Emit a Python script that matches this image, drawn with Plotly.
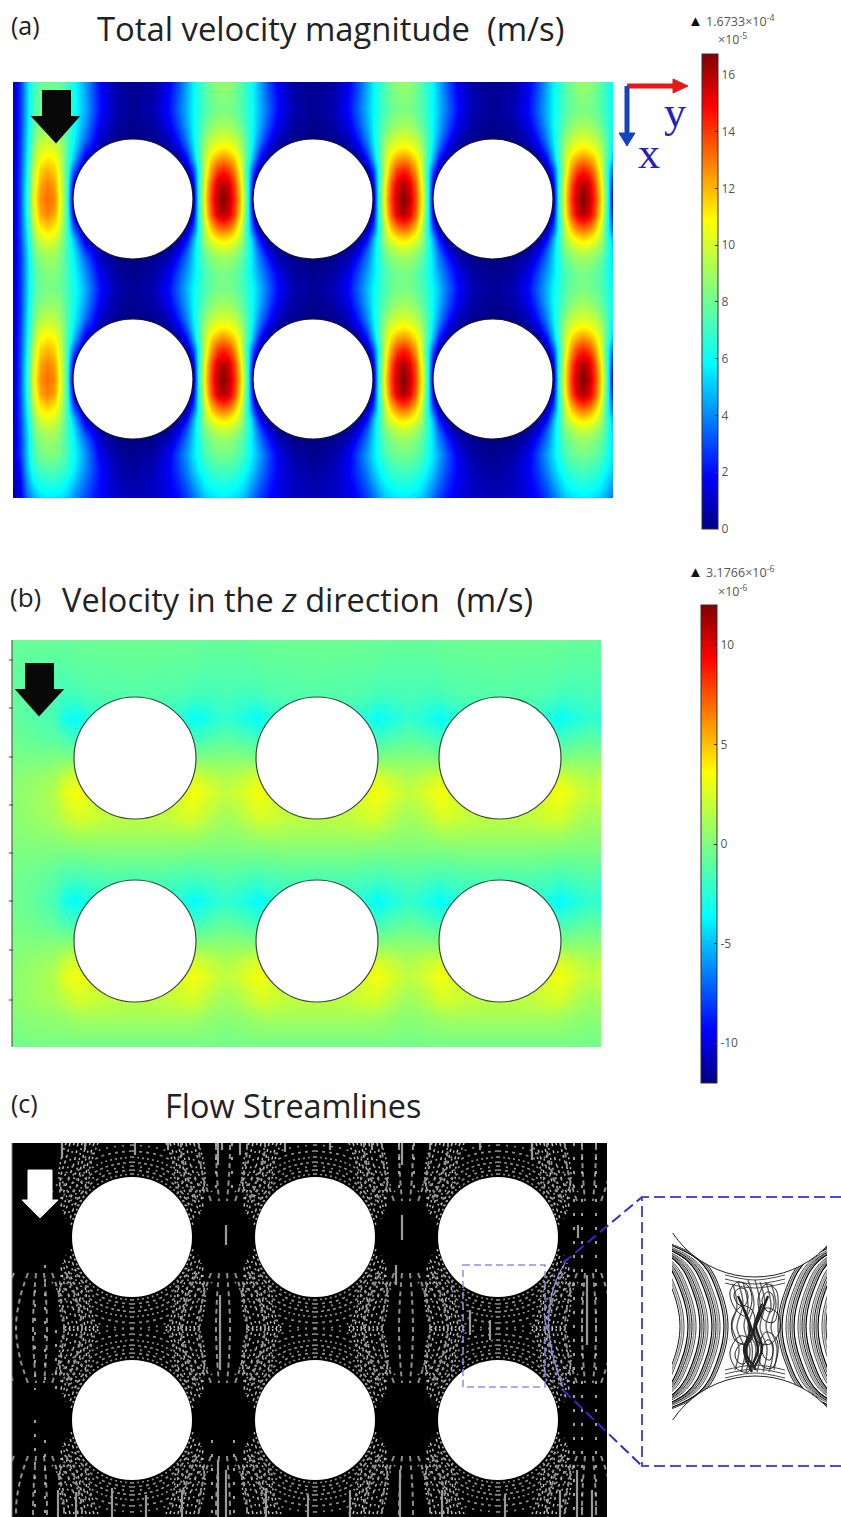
import plotly.graph_objects as go

W, H = 841, 1517
JET = [[0, "#00007F"], [0.11, "#0000FF"], [0.35, "#00FFFF"], [0.5, "#7FFF7F"], [0.65, "#FFFF00"], [0.89, "#FF0000"], [1, "#7F0000"]]

# ---------- panel (a): total velocity magnitude, x10^-5 m/s ----------
SPEED_MAX = 16.733
speed_hot_columns = [223, 403, 583]
speed_offsets = [0, 6, 12, 18, 24, 30, 36, 45, 55, 70, 90]
speed_left_x = [13, 20, 27, 33, 40, 47, 54, 60, 66, 73, 85, 100, 115, 133]
speed_row_y = [82, 109, 124, 139, 149, 159, 169, 184, 199, 214, 229, 239, 249, 259, 274, 289,
               304, 319, 329, 339, 349, 364, 379, 394, 409, 419, 429, 439, 454, 469, 498]
sp_top = [8.8, 8.7, 8.2, 7.5, 6.6, 5.7, 4.6, 3.0, 1.6, 0.5, 0.2]
sp_0 = [16.7, 15.9, 14.0, 11.3, 7.0, 0.6, 0, 0, 0, 0, 0]
sp_15 = [16.1, 15.4, 13.6, 10.9, 6.8, 1.5, 0, 0, 0, 0, 0]
sp_30 = [14.3, 13.8, 12.4, 10.2, 6.5, 3.0, 0.8, 0, 0, 0, 0]
sp_40 = [12.8, 12.4, 11.5, 9.8, 7.2, 4.5, 2.0, 0.4, 0, 0, 0]
sp_50 = [11.3, 11.0, 10.4, 9.3, 7.3, 5.2, 3.2, 1.2, 0.3, 0, 0]
sp_60 = [10.2, 10.0, 9.6, 8.7, 7.2, 5.6, 4.0, 2.2, 0.8, 0.2, 0]
sp_75 = [9.0, 8.9, 8.5, 7.8, 6.9, 5.8, 4.6, 3.0, 1.5, 0.5, 0.2]
sp_90 = [8.3, 8.2, 7.9, 7.4, 6.7, 5.8, 4.8, 3.4, 1.9, 0.7, 0.3]
sp_d30 = [13.2, 12.8, 11.7, 9.8, 6.4, 3.0, 0.8, 0, 0, 0, 0]
sp_d40 = [11.4, 11.1, 10.4, 9.2, 6.8, 4.5, 2.0, 0.4, 0, 0, 0]
sp_d50 = [9.9, 9.7, 9.2, 8.4, 6.8, 5.0, 3.2, 1.2, 0.3, 0, 0]
sp_d60 = [8.9, 8.8, 8.4, 7.8, 6.6, 5.2, 3.8, 2.2, 0.8, 0.2, 0]
sp_d75 = [8.2, 8.1, 7.8, 7.3, 6.4, 5.4, 4.4, 3.0, 1.5, 0.5, 0.2]
sp_low = [7.3, 7.2, 7.0, 6.5, 5.8, 5.0, 4.0, 2.8, 1.7, 0.8, 0.4]
sp_bot = [5.6, 5.5, 5.3, 5.0, 4.3, 3.5, 2.8, 2.0, 1.4, 1.0, 0.8]
lf_top = [1, 2.6, 5.2, 7.0, 7.8, 8.0, 8.0, 7.8, 7.2, 6.2, 4.4, 1.8, 0.6, 0.2]
lf_0 = [1, 3, 6.5, 10.5, 12.6, 13.2, 12.8, 10.6, 7.5, 0.5, 0, 0, 0, 0]
lf_15 = [1, 3, 6.3, 10, 12.2, 12.9, 12.3, 10.4, 7.5, 1.5, 0, 0, 0, 0]
lf_30 = [1, 2.9, 6, 9.5, 11.5, 12, 11.6, 10, 7.5, 3.5, 0.3, 0, 0, 0]
lf_40 = [1, 2.8, 5.8, 9, 10.8, 11.2, 11, 9.7, 7.6, 5, 1.2, 0, 0, 0]
lf_50 = [1, 2.8, 5.6, 8.5, 10.2, 10.4, 10.2, 9.3, 7.6, 5.6, 2.5, 0.5, 0, 0]
lf_60 = [1, 2.7, 5.5, 8, 9.4, 9.7, 9.6, 8.9, 7.6, 6, 3.5, 1, 0.2, 0]
lf_75 = [1, 2.6, 5.3, 7.5, 8.5, 8.8, 8.8, 8.4, 7.5, 6.2, 4.2, 1.6, 0.5, 0.2]
lf_90 = [1, 2.6, 5.2, 7.2, 8, 8.2, 8.2, 8, 7.3, 6.3, 4.6, 2, 0.7, 0.3]
lf_d30 = [1, 2.9, 5.9, 9.2, 11, 11.4, 11, 9.7, 7.4, 3.5, 0.3, 0, 0, 0]
lf_d40 = [1, 2.8, 5.6, 8.5, 10, 10.4, 10.2, 9, 7.3, 5, 1.2, 0, 0, 0]
lf_d50 = [1, 2.7, 5.3, 7.9, 9.2, 9.5, 9.3, 8.6, 7.3, 5.6, 2.5, 0.5, 0, 0]
lf_d60 = [1, 2.6, 5.2, 7.5, 8.6, 8.9, 8.8, 8.3, 7.2, 5.9, 3.5, 1, 0.2, 0]
lf_d75 = [1, 2.6, 5.1, 7.2, 8.1, 8.4, 8.4, 8, 7.2, 6.1, 4.2, 1.6, 0.5, 0.2]
lf_low = [0.7, 2.1, 4.8, 6.6, 7.2, 7.4, 7.4, 7.2, 6.7, 5.8, 4, 2, 0.8, 0.4]
lf_bot = [0.6, 1.5, 3.5, 4.5, 5.3, 5.5, 5.5, 5.4, 5, 4.2, 3, 1.8, 1.1, 0.8]
speed_profiles = [sp_top, sp_90, sp_75, sp_60, sp_50, sp_40, sp_30, sp_15, sp_0, sp_15, sp_d30, sp_d40, sp_d50, sp_d60, sp_d75, sp_90,
                  sp_75, sp_60, sp_50, sp_40, sp_30, sp_15, sp_0, sp_15, sp_d30, sp_d40, sp_d50, sp_d60, sp_d75, sp_low, sp_bot]
speed_left = [lf_top, lf_90, lf_75, lf_60, lf_50, lf_40, lf_30, lf_15, lf_0, lf_15, lf_d30, lf_d40, lf_d50, lf_d60, lf_d75, lf_90,
              lf_75, lf_60, lf_50, lf_40, lf_30, lf_15, lf_0, lf_15, lf_d30, lf_d40, lf_d50, lf_d60, lf_d75, lf_low, lf_bot]
speed_ticks = [0, 2, 4, 6, 8, 10, 12, 14, 16]
speed_tick_labels = ["0", "2", "4", "6", "8", "10", "12", "14", "16"]
circles_a_x = [133, 313, 493]
circles_a_y = [199, 379]

# ---------- panel (b): velocity in z, x10^-6 m/s ----------
vz_gap_columns = [44, 226, 409, 591]
vz_offsets = [0, 10, 20, 32, 40, 60, 91]
vz_left_x = [12, 24, 34, 44, 54]
vz_row_y = [640, 667, 693, 718, 738, 758, 778, 793, 818, 833, 849, 876, 901, 921, 941, 961, 976, 1001, 1016, 1032, 1047]
vz_profiles = [
    [-0.7, -0.7, -0.7, -0.6, -0.6, -0.5, -0.5],
    [-1.1, -1.1, -1.1, -1.0, -0.9, -0.9, -0.8],
    [-1.5, -1.6, -1.7, -1.6, -1.4, -1.2, -1.2],
    [-2.2, -2.5, -3.0, -3.5, -2.8, -2.0, -1.8],
    [-1.0, -1.2, -1.5, -1.8, -1.9, -1.8, -1.8],
    [0.2, 0.2, 0.1, 0, 0, 0, 0],
    [1.4, 1.7, 2.1, 2.6, 2.5, 2.0, 2.0],
    [1.9, 2.2, 2.8, 3.4, 3.0, 2.2, 2.0],
    [1.0, 1.2, 1.7, 2.4, 2.4, 1.8, 1.6],
    [0.5, 0.6, 0.8, 1.1, 1.2, 1.1, 1.1],
    [0.0, 0.0, 0.0, 0.0, 0.1, 0.2, 0.2],
    [-1.2, -1.3, -1.5, -1.6, -1.5, -1.3, -1.3],
    [-2.2, -2.5, -3.0, -3.6, -3.0, -2.1, -1.9],
    [-1.0, -1.2, -1.6, -1.9, -2.0, -1.8, -1.8],
    [0.2, 0.2, 0.1, 0, 0, 0, 0],
    [1.3, 1.6, 2.0, 2.5, 2.5, 2.0, 2.0],
    [1.8, 2.1, 2.8, 3.3, 3.0, 2.2, 2.0],
    [0.9, 1.1, 1.6, 2.3, 2.3, 1.8, 1.6],
    [0.4, 0.5, 0.7, 1.0, 1.1, 1.1, 1.1],
    [0.0, 0.1, 0.2, 0.3, 0.3, 0.3, 0.3],
    [-0.4, -0.4, -0.3, -0.3, -0.3, -0.3, -0.3],
]
vz_left = [
    [-0.6, -0.6, -0.6, -0.6, -0.6],
    [-0.8, -0.9, -1.0, -1.1, -1.1],
    [-0.8, -1.0, -1.2, -1.4, -1.5],
    [-0.8, -1.0, -1.2, -1.4, -1.6],
    [-0.5, -0.7, -0.8, -1.0, -1.0],
    [-0.2, -0.2, -0.2, -0.2, 0],
    [0.2, 0.4, 0.6, 0.8, 1.0],
    [0.4, 0.6, 0.8, 1.1, 1.5],
    [0.4, 0.5, 0.7, 0.9, 1.2],
    [0.2, 0.3, 0.4, 0.5, 0.6],
    [0, 0, 0, 0, 0],
    [-0.4, -0.5, -0.6, -0.8, -1.0],
    [-0.4, -0.6, -0.8, -1.2, -1.6],
    [-0.3, -0.4, -0.5, -0.8, -1.0],
    [0, 0, 0, 0, 0.1],
    [0.2, 0.4, 0.6, 0.8, 1.0],
    [0.4, 0.6, 0.8, 1.1, 1.5],
    [0.4, 0.6, 0.8, 1.0, 1.2],
    [0.2, 0.3, 0.4, 0.5, 0.6],
    [-0.1, 0, 0.1, 0.1, 0.2],
    [-0.4, -0.4, -0.3, -0.3, -0.3],
]
vz_ticks = [-10, -5, 0, 5, 10]
vz_tick_labels = ["-10", "-5", "0", "5", "10"]
circles_b_x = [135, 317, 500]
circles_b_y = [758, 941]
edge_tick_y = [660, 708, 757, 805, 853, 901, 950, 1000]

# ---------- panel (c): streamlines ----------
circles_c_x = [132, 315, 498]
circles_c_y = [1237, 1420]
stream_dy_up = [
    [-94, -70, -50, -30, -12], [-94, -70, -50, -32, -15], [-94, -70, -50, -34, -18], [-94, -70, -52, -38, -22], [-94, -72, -56, -42, -26],
    [-94, -74, -60, -46, -30], [-94, -76, -62, -50, -36], [-94, -78, -66, -54, -42], [-94, -82, -72, -60, -48],
]
stream_dx_up = [
    [34, 42, 44, 54, 61], [38, 45, 47, 57, 63], [42, 48, 51, 59, 66], [46, 51, 55, 62, 68], [50, 54, 59, 65, 69],
    [54, 58, 63, 68, 71], [58, 62, 67, 70, 71], [62, 66, 70, 72, 72], [66, 70, 72, 73, 71],
]
stream_sides = [-1, 1]
hug_dx = [[0, 22, 42, 55], [0, 24, 45, 58], [0, 25, 47, 62], [0, 26, 50, 65], [0, 28, 53, 70], [0, 30, 57, 75], [0, 32, 61, 80]]
hug_dy = [[63, 59, 47, 31], [67, 63, 50, 33], [71, 66, 53, 35], [75, 70, 56, 37], [80, 75, 60, 39], [86, 81, 64, 42], [92, 87, 69, 45]]
lens_x = [40, 40, 223, 223, 223, 406, 406, 406, 589, 589, 589]
lens_y = [1328, 1511, 1328, 1511, 1146, 1328, 1511, 1146, 1328, 1511, 1146]
lens_dy = [-55, -30, 0, 30, 55]
lens_dx = [[4, 6, 7, 6, 4], [12, 20, 24, 20, 12], [26, 36, 42, 36, 26]]
stream_bar_x = [62, 85, 135, 168, 218, 222, 240, 285, 330, 372, 402, 430, 480, 532,
                58, 76, 112, 146, 182, 218, 226, 266, 308, 350, 400, 442, 505, 560, 577, 592, 220, 226, 396, 402, 578, 587, 470, 490]
stream_bar_top = [1143, 1143, 1143, 1143, 1143, 1143, 1143, 1143, 1143, 1143, 1143, 1143, 1143, 1143,
                  1490, 1492, 1488, 1495, 1490, 1460, 1470, 1488, 1495, 1490, 1470, 1490, 1495, 1490, 1470, 1490, 1295, 1225, 1265, 1215, 1225, 1275, 1310, 1320]
stream_bar_bottom = [1158, 1150, 1155, 1150, 1165, 1150, 1155, 1152, 1150, 1150, 1165, 1150, 1150, 1160,
                     1517, 1517, 1517, 1517, 1517, 1517, 1517, 1517, 1517, 1517, 1517, 1517, 1517, 1517, 1517, 1517, 1370, 1245, 1285, 1240, 1238, 1345, 1335, 1340]
stream_dot_x = [35, 45, 56, 574, 582, 596, 216, 232, 399, 414, 35, 45, 212, 234]
stream_dot_top = [1290, 1265, 1330, 1143, 1143, 1143, 1143, 1143, 1143, 1143, 1420, 1440, 1440, 1440]
stream_dot_bottom = [1390, 1390, 1390, 1517, 1517, 1517, 1195, 1195, 1195, 1195, 1517, 1517, 1517, 1517]

# inset streamlines
inset_half_dy = [-95, -66, -35, 0]
inset_left = [
    [633, 703, 721, 728], [631, 701, 719, 726], [629, 699, 717, 724], [627, 697, 715, 722], [625, 695, 713, 720],
    [623, 693, 711, 718], [621, 691, 709, 716], [619, 689, 707, 714], [617, 687, 705, 712], [615, 685, 703, 710],
    [613, 683, 701, 708], [611, 681, 699, 706], [609, 679, 697, 704], [607, 677, 695, 702], [605, 675, 693, 700],
    [603, 673, 691, 698], [601, 671, 689, 696], [599, 669, 687, 694], [597, 667, 685, 692], [595, 665, 683, 690],
    [593, 663, 681, 688], [591, 661, 679, 686], [589, 659, 677, 684], [587, 657, 675, 682], [585, 655, 673, 680],
]
inset_right = [
    [873, 803, 785, 778], [875, 805, 787, 780], [877, 807, 789, 782], [879, 809, 791, 784], [881, 811, 793, 786],
    [883, 813, 795, 788], [885, 815, 797, 790], [887, 817, 799, 792], [889, 819, 801, 794], [891, 821, 803, 796],
    [893, 823, 805, 798], [895, 825, 807, 800], [897, 827, 809, 802], [899, 829, 811, 804], [901, 831, 813, 806],
    [903, 833, 815, 808], [905, 835, 817, 810], [907, 837, 819, 812], [909, 839, 821, 814], [911, 841, 823, 816],
    [913, 843, 825, 818], [915, 845, 827, 820], [917, 847, 829, 822], [919, 849, 831, 824], [921, 851, 833, 826],
]
inset_line_colors = ["#111111", "#777777", "#000000", "#ffffff", "#333333", "#999999"]
inset_line_widths = [1.0, 1.6, 1.2, 1.0, 0.9, 1.6]
inset_loop_x = [
    [730, 738, 748, 752, 746, 736, 730], [734, 740, 746, 748, 744, 738, 734],
    [758, 766, 776, 778, 774, 764, 758], [762, 767, 772, 774, 771, 766, 762],
    [730, 740, 750, 752, 748, 736, 730], [735, 741, 746, 747, 744, 738, 735],
    [758, 766, 776, 778, 772, 762, 758], [762, 767, 772, 773, 770, 765, 762],
    [732, 742, 752, 755, 748, 735, 732], [754, 766, 778, 780, 770, 758, 754],
]
inset_loop_y = [
    [1292, 1282, 1286, 1300, 1316, 1310, 1292], [1294, 1288, 1290, 1298, 1306, 1304, 1294],
    [1300, 1284, 1290, 1306, 1322, 1320, 1300], [1300, 1292, 1294, 1304, 1312, 1310, 1300],
    [1352, 1336, 1340, 1358, 1372, 1368, 1352], [1354, 1344, 1346, 1356, 1364, 1362, 1354],
    [1350, 1332, 1338, 1352, 1368, 1366, 1350], [1350, 1340, 1342, 1352, 1360, 1358, 1350],
    [1320, 1306, 1310, 1326, 1344, 1340, 1320], [1325, 1308, 1314, 1330, 1344, 1342, 1325],
]
inset_squiggle_x = [
    [733, 737, 732, 739, 735], [738, 743, 737, 745, 741], [743, 748, 744, 750, 746], [748, 754, 748, 756, 751],
    [755, 760, 754, 761, 757], [760, 765, 760, 767, 763], [766, 771, 766, 773, 769], [771, 776, 771, 777, 774],
]
inset_squiggle_y = [
    [1284, 1306, 1326, 1348, 1370], [1282, 1304, 1328, 1350, 1372], [1282, 1306, 1326, 1350, 1372], [1280, 1304, 1328, 1348, 1372],
    [1280, 1306, 1326, 1350, 1372], [1282, 1304, 1328, 1348, 1372], [1282, 1306, 1326, 1350, 1372], [1284, 1304, 1328, 1348, 1370],
]
inset_core_x = [[738, 746, 752, 758, 750], [768, 760, 752, 746, 756], [744, 750, 744, 752], [762, 756, 762, 754]]
inset_core_y = [[1296, 1314, 1330, 1350, 1368], [1296, 1316, 1334, 1352, 1370], [1310, 1330, 1350, 1372], [1304, 1326, 1348, 1368]]
inset_hug_x = [725, 755, 785]
inset_hug_y = [[1275, 1280, 1275], [1279, 1284, 1279], [1283, 1288, 1283], [1378, 1373, 1378], [1374, 1369, 1374], [1370, 1365, 1370]]

CB_TICK = dict(size=12, color="#555555", family="Open Sans")


def domain(p0, p1, total, flip=False):
    return [1 - p1 / total, 1 - p0 / total] if flip else [p0 / total, p1 / total]


def hidden(dom, rng, **kw):
    base = dict(domain=dom, range=rng, showgrid=False, zeroline=False, showticklabels=False, ticks="", fixedrange=True)
    base.update(kw)
    return base


# --- assemble columns
speed_x = list(speed_left_x)
speed_idx = []
for h in speed_hot_columns:
    for o in reversed(speed_offsets[1:-1]):
        speed_x.append(h - o)
        speed_idx.append(speed_offsets.index(o))
    speed_x.append(h)
    speed_idx.append(0)
    for o in speed_offsets[1:]:
        if h + o <= 613:
            speed_x.append(h + o)
            speed_idx.append(speed_offsets.index(o))
speed_z = [left + [p[i] for i in speed_idx] for left, p in zip(speed_left, speed_profiles)]

vz_x = list(vz_left_x)
vz_idx = []
for g in vz_gap_columns:
    if g != vz_gap_columns[0]:
        for o in reversed(vz_offsets[1:-1]):
            vz_x.append(g - o)
            vz_idx.append(vz_offsets.index(o))
        vz_x.append(g)
        vz_idx.append(0)
    for o in vz_offsets[1:]:
        if g + o <= 601 and g + o > vz_left_x[-1]:
            vz_x.append(g + o)
            vz_idx.append(vz_offsets.index(o))
vz_z = [left + [p[i] for i in vz_idx] for left, p in zip(vz_left, vz_profiles)]

fig = go.Figure()
fig.add_trace(go.Heatmap(
    x=speed_x, y=speed_row_y, z=speed_z, zmin=0, zmax=SPEED_MAX, zsmooth="best", colorscale=JET, xaxis="x", yaxis="y",
    hoverinfo="skip",
    colorbar=dict(x=702 / W, xanchor="left", xref="paper", y=1 - 54 / H, yanchor="top", yref="paper", lenmode="pixels", len=475,
                  thickness=16, thicknessmode="pixels", xpad=0, ypad=0, outlinewidth=1, outlinecolor="#333333",
                  tickvals=speed_ticks, ticktext=speed_tick_labels, ticks="inside", ticklen=3, tickcolor="#333333",
                  tickprefix="\u00a0\u00a0\u00a0", tickfont=CB_TICK)))
fig.add_trace(go.Heatmap(
    x=vz_x, y=vz_row_y, z=vz_z, zmin=-12, zmax=12, zsmooth="best", colorscale=JET, xaxis="x2", yaxis="y2",
    hoverinfo="skip",
    colorbar=dict(x=701 / W, xanchor="left", xref="paper", y=1 - 605 / H, yanchor="top", yref="paper", lenmode="pixels", len=478,
                  thickness=16, thicknessmode="pixels", xpad=0, ypad=0, outlinewidth=1, outlinecolor="#333333",
                  tickvals=vz_ticks, ticktext=vz_tick_labels, ticks="inside", ticklen=3, tickcolor="#333333",
                  tickprefix="\u00a0\u00a0\u00a0", tickfont=CB_TICK)))


def stream_trace(xs, ys, color, width, dash=None, smooth=True):
    line = dict(color=color, width=width)
    if dash:
        line["dash"] = dash
    if smooth:
        line["shape"] = "spline"
    fig.add_trace(go.Scatter(x=xs, y=ys, mode="lines", xaxis="x3", yaxis="y3", hoverinfo="skip", showlegend=False, line=line))


# streamlines around the cylinders
dash_styles = ["2px,3px", "3px,4px", "2px,6px", "3px,3px"]
for k, dash in enumerate(dash_styles):
    xs, ys = [], []
    for cy in circles_c_y:
        for cx in circles_c_x:
            for sx in stream_sides:
                for sy in stream_sides:
                    for b, (ux, uy) in enumerate(zip(stream_dx_up, stream_dy_up)):
                        if b % 4 == k:
                            xs += [cx + sx * d for d in ux] + [None]
                            ys += [cy + sy * d for d in uy] + [None]
    stream_trace(xs, ys, "#bcbcbc", 1.5, dash)
for k, dash in enumerate(dash_styles):
    xs, ys = [], []
    for cy in circles_c_y:
        for cx in circles_c_x:
            for sx in stream_sides:
                for sy in stream_sides:
                    for b, (hx, hy) in enumerate(zip(hug_dx, hug_dy)):
                        if b % 4 == k:
                            xs += [cx + sx * d for d in hx] + [None]
                            ys += [cy + sy * d for d in hy] + [None]
    stream_trace(xs, ys, "#8e8e8e", 1.7, dash)
xs, ys = [], []
for col, row in zip(lens_x, lens_y):
    for side in stream_sides:
        for lens in lens_dx:
            xs += [col + side * d for d in lens] + [None]
            ys += [row + d for d in lens_dy] + [None]
stream_trace(xs, ys, "#8f8f8f", 2, "5px,4px")
bx, by = [], []
for x, t, b in zip(stream_bar_x, stream_bar_top, stream_bar_bottom):
    bx += [x, x, None]
    by += [t, b, None]
stream_trace(bx, by, "#9a9a9a", 2.2, None, False)
dx_, dy_ = [], []
for x, t, b in zip(stream_dot_x, stream_dot_top, stream_dot_bottom):
    dx_ += [x, x, None]
    dy_ += [t, b, None]
stream_trace(dx_, dy_, "#b0b0b0", 1.8, "3px,11px", False)

# inset
inset_y = [1326.5 + d for d in inset_half_dy] + [1326.5 - d for d in inset_half_dy[-2::-1]]
for family in (inset_left, inset_right):
    for n, half in enumerate(family):
        row = half + half[-2::-1]
        fig.add_trace(go.Scatter(x=row, y=inset_y, mode="lines", xaxis="x4", yaxis="y4", hoverinfo="skip", showlegend=False,
                                 line=dict(color=inset_line_colors[n % 6], width=inset_line_widths[n % 6], shape="spline")))
for lx, ly in zip(inset_squiggle_x, inset_squiggle_y):
    fig.add_trace(go.Scatter(x=lx, y=ly, mode="lines", xaxis="x4", yaxis="y4", hoverinfo="skip", showlegend=False,
                             line=dict(color="#666666", width=1.4, shape="spline")))
for lx, ly in zip(inset_loop_x, inset_loop_y):
    fig.add_trace(go.Scatter(x=lx, y=ly, mode="lines", xaxis="x4", yaxis="y4", hoverinfo="skip", showlegend=False,
                             line=dict(color="#222222", width=1.0, shape="spline")))
for lx, ly in zip(inset_core_x, inset_core_y):
    fig.add_trace(go.Scatter(x=lx, y=ly, mode="lines", xaxis="x4", yaxis="y4", hoverinfo="skip", showlegend=False,
                             line=dict(color="#222222", width=2.4, shape="spline")))
for ly in inset_hug_y:
    fig.add_trace(go.Scatter(x=inset_hug_x, y=ly, mode="lines", xaxis="x4", yaxis="y4", hoverinfo="skip", showlegend=False,
                             line=dict(color="#333333", width=0.9, shape="spline")))
# left edge ticks of panel (b)
fig.add_trace(go.Scatter(x=[11] * len(edge_tick_y), y=edge_tick_y, mode="markers", xaxis="x5", yaxis="y5", hoverinfo="skip", showlegend=False,
                         marker=dict(symbol="line-ew", size=3, line=dict(color="#444444", width=1))))

shapes = [dict(type="rect", xref="x3", yref="y3", x0=12, x1=607, y0=1143, y1=1517, fillcolor="black", line=dict(width=0), layer="below")]


def add_circles(xs, ys, r, xref, yref, color, width):
    for cy in ys:
        for cx in xs:
            shapes.append(dict(type="circle", xref=xref, yref=yref, x0=cx - r, x1=cx + r, y0=cy - r, y1=cy + r,
                               fillcolor="white", line=dict(color=color, width=width), layer="above"))


add_circles(circles_a_x, circles_a_y, 60, "x", "y", "#141428", 1.2)
add_circles(circles_b_x, circles_b_y, 61, "x2", "y2", "#3a4a3a", 1.2)
add_circles(circles_c_x, circles_c_y, 60, "x3", "y3", "#ffffff", 0)
# inset mask arcs
shapes.append(dict(type="circle", xref="x4", yref="y4", x0=656, x1=854, y0=1079, y1=1277, fillcolor="white", line=dict(color="#222", width=1), layer="above"))
shapes.append(dict(type="circle", xref="x4", yref="y4", x0=656, x1=854, y0=1376, y1=1574, fillcolor="white", line=dict(color="#222", width=1), layer="above"))


def page_path(path, fill=None, line="rgba(0,0,0,0)", width=1, dash=None):
    ln = dict(color=line, width=width)
    if dash:
        ln["dash"] = dash
    s = dict(type="path", xref="x5", yref="y5", path=path, line=ln, layer="above")
    if fill:
        s["fillcolor"] = fill
    shapes.append(s)


# down arrows
page_path("M43,91 L70,91 L70,117 L78,117 L56,142 L33,117 L43,117 Z", fill="#080808", line="#080808", width=2)
page_path("M26,664 L53,664 L53,690 L62,690 L39,715 L17,690 L26,690 Z", fill="#080808", line="#080808", width=2)
page_path("M28,1170 L52,1170 L52,1200 L58,1200 L40,1218 L22,1200 L28,1200 Z", fill="#ffffff", line="#ffffff", width=1)
# panel (b) and (c) left edges
page_path("M12,640 L12,1047", line="#444444", width=1)
page_path("M12,1143 L12,1517", line="#888888", width=1)
# xy axes glyph
page_path("M627,86 L676,86", line="#E5191C", width=5)
page_path("M673,79 L688,86 L673,93 Z", fill="#E5191C", line="#E5191C", width=1)
page_path("M627,86 L627,133", line="#1244BE", width=5)
page_path("M619,133 L635,133 L627,146 Z", fill="#1244BE", line="#1244BE", width=1)
# selection box and connectors
page_path("M463,1265 L545,1265 L545,1387 L463,1387 Z", line="#8F8FEA", width=1.5, dash="7px,4px")
page_path("M565,1263 C548,1290 540,1330 563,1387", line="#8F8FEA", width=1.2)
page_path("M563,1263 L642,1197", line="#2F2FC8", width=2, dash="11px,5px")
page_path("M563,1390 L642,1466", line="#2F2FC8", width=2, dash="11px,5px")
page_path("M841,1197 L642,1197 L642,1466 L841,1466", line="#4C4CD8", width=2, dash="11px,5px")


def note(text, x, y, size, color="#222222", family="Open Sans", anchor="left"):
    return dict(text=text, x=x, y=y, xref="x5", yref="y5", xanchor=anchor, yanchor="middle", showarrow=False,
                font=dict(size=size, color=color, family=family))


annots = [
    note("(a)", 9, 25, 25),
    note("Total velocity magnitude  (m/s)", 95, 28, 32.8),
    note("(b)", 8, 597, 26),
    note("Velocity in the <i>z</i> direction  (m/s)", 60, 599, 32.5),
    note("(c)", 9, 1103, 25),
    note("Flow Streamlines", 163, 1105, 32.4),
    note("y", 662, 112, 44, color="#2222BB", family="Liberation Serif"),
    note("x", 636, 153, 44, color="#2222BB", family="Liberation Serif"),
    note("<span style='color:#111;font-size:15px'>▲</span> 1.6733×10<sup>-4</sup>", 686, 20, 12.5, color="#555555"),
    note("×10<sup>-5</sup>", 716, 39, 12.5, color="#555555"),
    note("<span style='color:#111;font-size:15px'>▲</span> 3.1766×10<sup>-6</sup>", 686, 571, 12.5, color="#555555"),
    note("×10<sup>-6</sup>", 716, 591, 12.5, color="#555555"),
]

fig.update_layout(
    width=W, height=H, margin=dict(l=0, r=0, t=0, b=0), paper_bgcolor="white", plot_bgcolor="rgba(0,0,0,0)", showlegend=False,
    xaxis=hidden(domain(13, 613, W), [13, 613]),
    yaxis=hidden(domain(82, 498, H, True), [498, 82]),
    xaxis2=hidden(domain(12, 601, W), [12, 601], anchor="y2"),
    yaxis2=hidden(domain(640, 1047, H, True), [1047, 640], anchor="x2"),
    xaxis3=hidden(domain(12, 607, W), [12, 607], anchor="y3"),
    yaxis3=hidden(domain(1143, 1517, H, True), [1517, 1143], anchor="x3"),
    xaxis4=hidden(domain(672, 827, W), [672, 827], anchor="y4"),
    yaxis4=hidden(domain(1233, 1420, H, True), [1420, 1233], anchor="x4"),
    xaxis5=hidden([0, 1], [0, W], anchor="y5", visible=False),
    yaxis5=hidden([0, 1], [H, 0], anchor="x5", visible=False),
    shapes=shapes, annotations=annots,
)
fig.write_html("out.html", config={"displayModeBar": False},
               post_script="document.body.style.margin='0';document.documentElement.style.margin='0';")
